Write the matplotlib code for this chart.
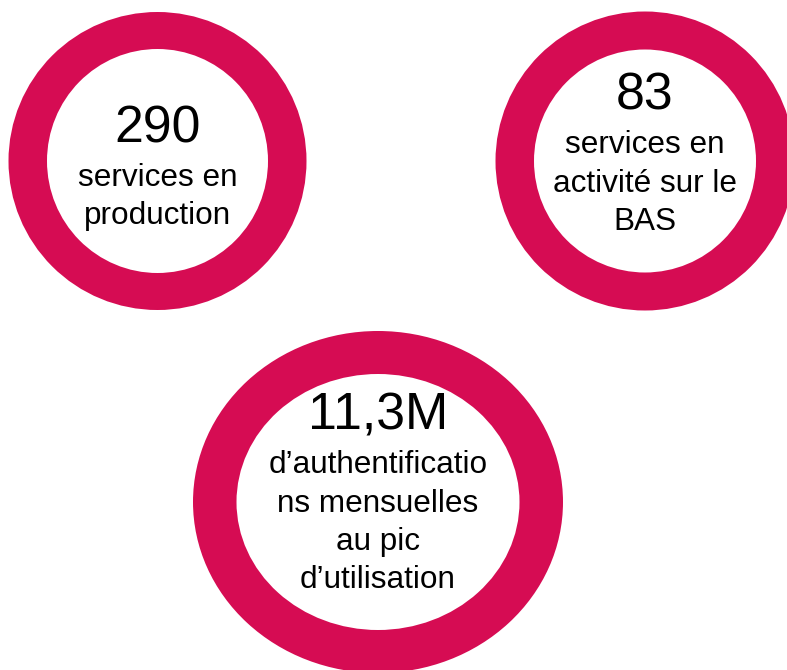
import matplotlib
matplotlib.use("Agg")
import matplotlib.pyplot as plt
from matplotlib.patches import Ellipse

# chiffres clés affichés dans les anneaux
figures = ["290", "83", "11,3M"]
captions = [
    ["services en", "production"],
    ["services en", "activité sur le", "BAS"],
    ["d\u2019authentificatio", "ns mensuelles", "au pic", "d\u2019utilisation"],
]

# layout (pixels, origin top-left)
centers = [(157.5, 161), (645, 161), (378, 502)]
outer_r = [(149, 149), (149.5, 149.5), (185, 171)]
inner_r = [(110.5, 112), (111, 111.5), (141.5, 128)]
number_baseline = [142.5, 110, 430]
line_gap = 38.5
first_gap = 43

ring_color = "#D60C53"
W, H = 787, 670
DPI = 100

plt.rcParams["font.family"] = ["Liberation Sans", "DejaVu Sans"]

fig = plt.figure(figsize=(W / DPI, H / DPI), dpi=DPI)
ax = fig.add_axes([0, 0, 1, 1])
ax.set_xlim(0, W)
ax.set_ylim(H, 0)
ax.axis("off")

for i, (cx, cy) in enumerate(centers):
    ow, oh = outer_r[i]
    iw, ih = inner_r[i]
    ax.add_patch(Ellipse((cx, cy), 2 * ow, 2 * oh, facecolor=ring_color, linewidth=0))
    ax.add_patch(Ellipse((cx, cy), 2 * iw, 2 * ih, facecolor="white", linewidth=0))

    y = number_baseline[i]
    ax.text(cx, y, figures[i], fontsize=37.4, ha="center", va="baseline", color="black")
    y += first_gap
    for line in captions[i]:
        ax.text(cx, y, line, fontsize=22.7, ha="center", va="baseline", color="black")
        y += line_gap

fig.savefig("out.png", dpi=DPI, facecolor="white")
